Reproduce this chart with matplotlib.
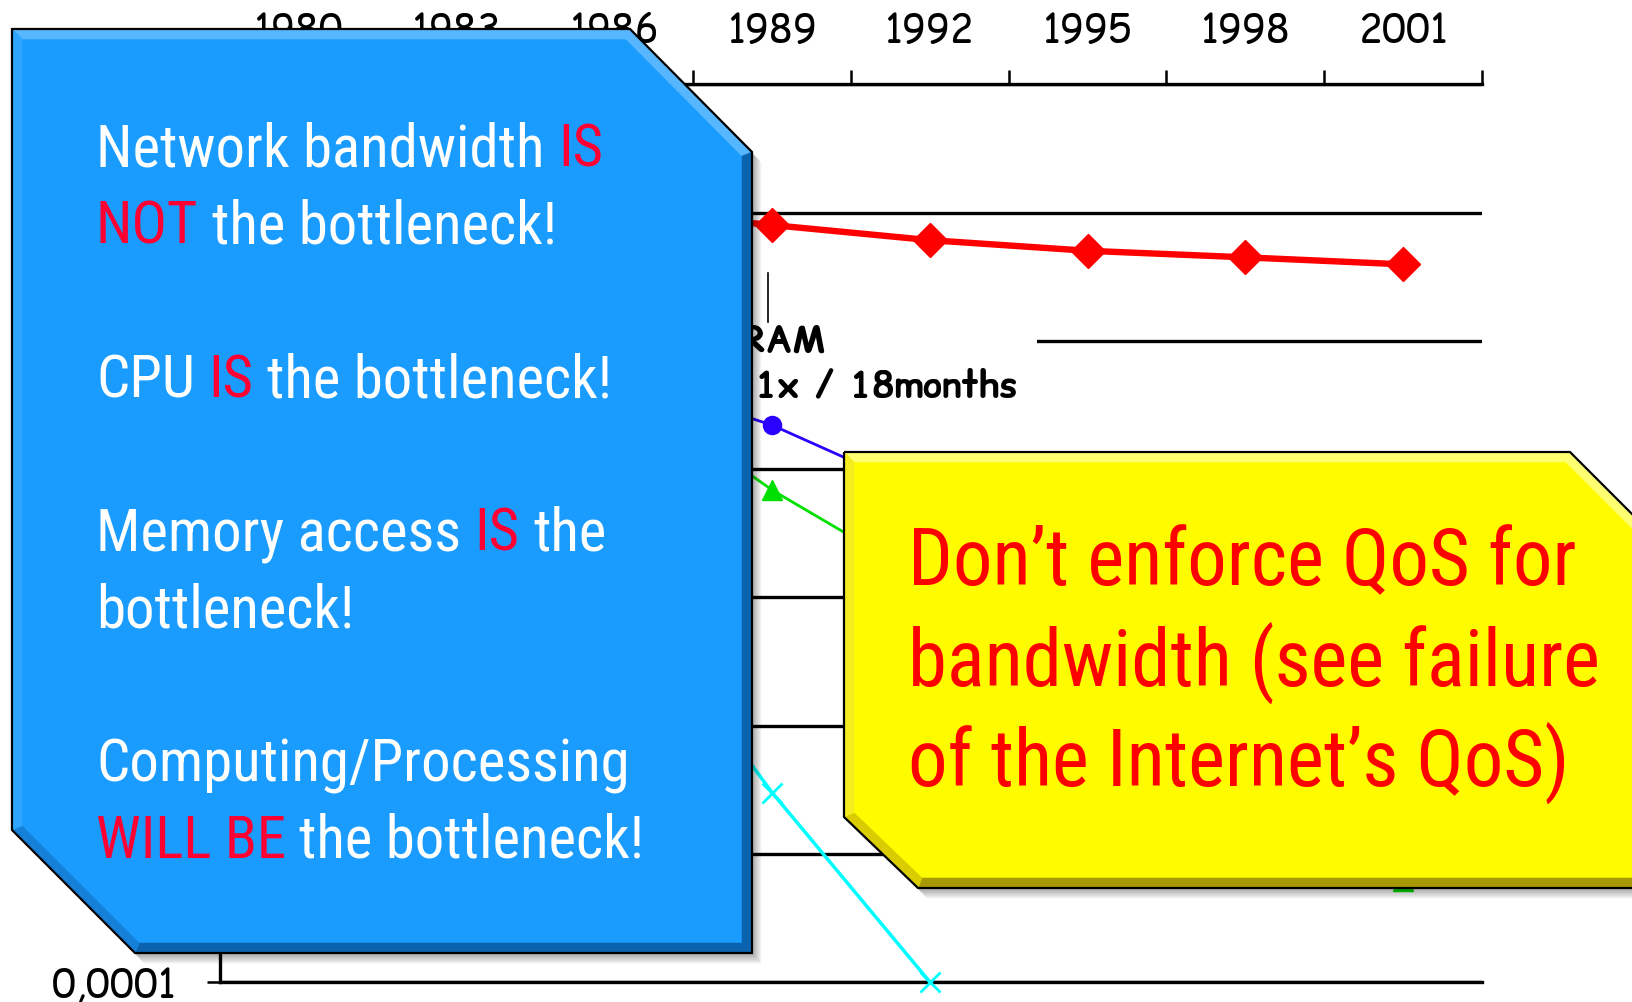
import matplotlib
matplotlib.use("Agg")
import matplotlib.pyplot as plt
import numpy as np
from matplotlib.patches import Polygon, Rectangle
from matplotlib.ticker import FixedLocator, FixedFormatter, FuncFormatter, NullFormatter, NullLocator
from matplotlib.font_manager import FontProperties

# ---------------- data ----------------
years = ["1980", "1983", "1986", "1989", "1992", "1995", "1998", "2001"]
red_vals = [160, 130, 105, 80, 61, 50.4, 44.8, 39.5]
blue_vals = [35, 14, 5.6, 2.2, 0.62, 0.17, 0.048, 0.013]
green_vals = [150, 30, 5.1, 0.686, 0.13, 0.022, 0.0036, 0.00061]
cyan_vals = [8, 1.1, 0.14, 0.003, 0.0001, np.nan, np.nan, np.nan]
y_ticks = [1e-4, 1e-3, 1e-2, 1e-1, 1, 10, 100, 1000]

W, H = 1633, 1002
fig = plt.figure(figsize=(W / 100, H / 100), dpi=100)
fig.patch.set_facecolor("white")
renderer = fig.canvas.get_renderer()


def tw(s, prop):
    w, h, d = renderer.get_text_width_height_descent(s, prop, ismath=False)
    return w


def fit(family, text, target, weight="normal"):
    p = FontProperties(family=family, weight=weight, size=40)
    return 40 * target / tw(text, p)


COMIC = ["Comic Relief", "Comic Neue", "DejaVu Sans"]
NARROW = ["Roboto Condensed", "Archivo Narrow", "Liberation Sans"]

tick_size = fit(COMIC, "1989", 90)

L, R, T, B = 220, 1482, 84.4, 982
ax = fig.add_axes([L / W, 1 - B / H, (R - L) / W, (B - T) / H])
x = np.arange(len(years))
ax.set_yscale("log")
ax.set_ylim(y_ticks[0], y_ticks[-1])
ax.set_xlim(-0.5, len(years) - 0.5)

for s in ["top", "bottom", "left"]:
    ax.spines[s].set_linewidth(2.4)
ax.spines["right"].set_visible(False)

ax.xaxis.tick_top()
ax.xaxis.set_major_locator(FixedLocator(np.arange(-0.5, len(years), 1.0)))
ax.xaxis.set_major_formatter(NullFormatter())
ax.xaxis.set_minor_locator(FixedLocator(x))
ax.xaxis.set_minor_formatter(FixedFormatter(years))
ax.tick_params(axis="x", which="major", direction="out", length=10, width=1.8,
               top=True, bottom=False, labeltop=False)
ax.tick_params(axis="x", which="minor", length=0, pad=22, labelsize=tick_size,
               top=True, bottom=False, labeltop=True, labelbottom=False)

ax.yaxis.set_major_locator(FixedLocator(y_ticks))
ax.yaxis.set_minor_locator(NullLocator())
ax.yaxis.set_major_formatter(FuncFormatter(lambda v, p: f"{v:g}".replace(".", ",")))
ax.tick_params(axis="y", which="major", direction="out", length=9.4, width=1.8,
               pad=22, labelsize=tick_size, right=False)
for lab in ax.get_xticklabels(minor=True) + ax.get_yticklabels():
    lab.set_family(COMIC)
ax.yaxis.grid(True, color="black", lw=2.4, zorder=1)
ax.set_axisbelow(True)

ax.plot(x, red_vals, color="#ff0000", lw=4.6, marker="D", ms=17, zorder=3)
ax.plot(x, blue_vals, color="#2a00ff", lw=2, marker="o", ms=13, zorder=3)
ax.plot(x, green_vals, color="#00e000", lw=2, marker="^", ms=14.5, zorder=3)
ax.plot(x, cyan_vals, color="#00ffff", lw=2.5, marker="x", ms=15, mew=2, zorder=3, clip_on=False)

# ---------------- overlay (pixel coordinates) ----------------
ov = fig.add_axes([0, 0, 1, 1], zorder=10)
ov.set_xlim(0, W)
ov.set_ylim(H, 0)
ov.axis("off")
ov.patch.set_visible(False)

# DRAM label with white background
lab_size = fit(COMIC, "1x / 18months", 262, weight="bold")
lab_prop = FontProperties(family=COMIC, weight="bold", size=lab_size)
ov.add_patch(Rectangle((700, 318), 1037 - 700, 92, facecolor="white", edgecolor="none", zorder=1))
line2 = "1.1x / 18months"
x_left = 1017 - tw(line2, lab_prop)
ov.text(x_left, 397, line2, fontproperties=lab_prop, ha="left", va="baseline", color="black", zorder=2)
ov.text(x_left, 352, "DRAM", fontproperties=lab_prop, ha="left", va="baseline", color="black", zorder=2)
ov.plot([768, 768], [273, 322], color="black", lw=1.2, zorder=2)


def inset(pts, d):
    pts = np.asarray(pts, float)
    n = len(pts)
    c = pts.mean(axis=0)
    lines = []
    for i in range(n):
        p, q = pts[i], pts[(i + 1) % n]
        u = (q - p) / np.linalg.norm(q - p)
        nrm = np.array([-u[1], u[0]])
        if np.dot(c - (p + q) / 2, nrm) < 0:
            nrm = -nrm
        lines.append((p + nrm * d, u, -nrm))
    out = []
    for i in range(n):
        p1, u1, _ = lines[i - 1]
        p2, u2, _ = lines[i]
        A = np.array([u1, -u2]).T
        t, s = np.linalg.solve(A, p2 - p1)
        out.append(p1 + t * u1)
    return np.array(out), [l[2] for l in lines]


def bevel_box(pts, base, light, mid_l, dark, mid_d, bw=10, z=5):
    pts = np.asarray(pts, float)
    for k in range(1, 13):
        ov.add_patch(Polygon(pts + np.array([k * 0.8, k * 0.9]), closed=True,
                             facecolor="black", edgecolor="none", alpha=0.03, zorder=z))
    ov.add_patch(Polygon(pts, closed=True, facecolor=base, edgecolor="none", zorder=z + 0.1))
    inner, normals = inset(pts, bw)
    n = len(pts)
    for i in range(n):
        nx, ny = normals[i]
        if ny < -0.3:
            col = light
        elif ny > 0.3 and nx < -0.3:
            col = mid_d
        elif nx > 0.5 or ny > 0.3:
            col = dark
        else:
            col = mid_l
        quad = [pts[i], pts[(i + 1) % n], inner[(i + 1) % n], inner[i]]
        ov.add_patch(Polygon(quad, closed=True, facecolor=col, edgecolor=col, lw=0.4, zorder=z + 0.2))
    ov.add_patch(Polygon(pts, closed=True, facecolor="none", edgecolor="black", lw=1.6, zorder=z + 0.3))


blue_pts = [(12, 29), (630, 29), (752, 152), (752, 953), (135, 953), (12, 830)]
bevel_box(blue_pts, "#1a9cff", "#56b6ff", "#2ea6ff", "#0b63b0", "#1580d8", bw=10, z=5)

yel_pts = [(844, 452), (1570, 452), (1680, 562), (1680, 888), (918, 888), (844, 817)]
bevel_box(yel_pts, "#fffc00", "#ffff70", "#f4ee20", "#a69a00", "#d9cc00", bw=10, z=5)

# text in boxes
WHITE, RED1, RED2 = "#ffffff", "#ff0033", "#ff0000"
blue_prop = FontProperties(family=NARROW, size=fit(NARROW, "Network bandwidth IS", 507))
yel_prop = FontProperties(family=NARROW, size=fit(NARROW, "Don\u2019t enforce QoS for", 668))


def rich_line(x0, y, segs, prop, z=8):
    prefix = ""
    for seg, col in segs:
        s = seg.lstrip()
        full = prefix + seg
        xs = x0 + tw(full, prop) - tw(s, prop)
        ov.text(xs, y, s, color=col, fontproperties=prop, ha="left", va="baseline", zorder=z)
        prefix = full


blue_lines = [
    (0, [("Network bandwidth", WHITE), (" IS", RED1)]),
    (1, [("NOT", RED1), (" the bottleneck!", WHITE)]),
    (3, [("CPU", WHITE), (" IS", RED1), (" the bottleneck!", WHITE)]),
    (5, [("Memory access", WHITE), (" IS", RED1), (" the", WHITE)]),
    (6, [("bottleneck!", WHITE)]),
    (8, [("Computing/Processing", WHITE)]),
    (9, [("WILL BE", RED1), (" the bottleneck!", WHITE)]),
]
for k, segs in blue_lines:
    rich_line(96, 166.7 + 76.8 * k, segs, blue_prop)

yel_lines = ["Don\u2019t enforce QoS for", "bandwidth (see failure", "of the Internet\u2019s QoS)"]
for i, s in enumerate(yel_lines):
    ov.text(908, 585 + 100.5 * i, s, color=RED2, fontproperties=yel_prop,
            ha="left", va="baseline", zorder=8)

fig.savefig("out.png", dpi=100, facecolor="white")
